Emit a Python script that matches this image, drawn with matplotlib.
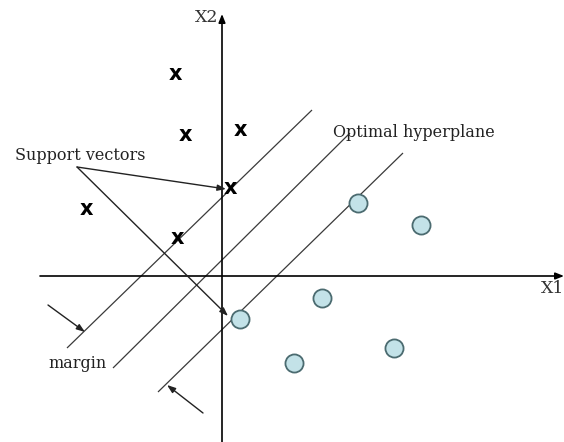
import matplotlib.pyplot as plt
import numpy as np

# data coordinates: origin where the two axes cross
cross_x = [-1.175, -0.925, 0.45, 0.2, -3.4, -1.125]
cross_y = [5.05, 3.525, 3.65, 2.2, 1.675, 0.95]

circle_x = [3.4, 4.975, 2.5, 0.45, 1.8, 4.3]
circle_y = [1.825, 1.275, -0.55, -1.075, -2.175, -1.8]

# parallel lines: lower margin, hyperplane, upper margin (start, end)
line_x = [(-3.875, 2.25), (-2.725, 3.2), (-1.6, 4.525)]
line_y = [(-1.8, 4.15), (-2.3, 3.575), (-2.9, 3.075)]

support_from = (-3.625, 2.725)
support_to = [(0.1, 2.175), (0.15, -1.0)]

margin_arrows = [((-4.35, -0.725), (-3.425, -1.4)), ((-0.475, -3.425), (-1.375, -2.725))]

x_axis_range = (-4.55, 8.55)
y_axis_range = (-4.2, 6.55)

figure = plt.figure(figsize=(5.64, 4.42), dpi=100)
axis = figure.add_axes([0, 0, 1, 1])
axis.set_xlim(-5.55, 8.55)
axis.set_ylim(-4.15, 6.9)
axis.axis("off")

serif = "DejaVu Serif"
ink = "#222222"
head = "-|>,head_length=0.5,head_width=0.18"

# coordinate axes
axis.annotate("", xy=(x_axis_range[1], 0), xytext=(x_axis_range[0], 0),
              arrowprops=dict(arrowstyle="-|>,head_length=0.5,head_width=0.2", color="black", lw=1.2,
                              shrinkA=0, shrinkB=0))
axis.annotate("", xy=(0, y_axis_range[1]), xytext=(0, y_axis_range[0]),
              arrowprops=dict(arrowstyle="-|>,head_length=0.5,head_width=0.2", color="black", lw=1.2,
                              shrinkA=0, shrinkB=0))
axis.text(7.975, -0.425, "X1", family=serif, fontsize=12.5, color="#333333", ha="left", va="baseline")
axis.text(-0.1, 6.35, "X2", family=serif, fontsize=12.5, color="#333333", ha="right", va="baseline")

# margin lines and hyperplane
for xs, ys in zip(line_x, line_y):
    axis.plot(xs, ys, color="#3a3a3a", lw=0.9, solid_capstyle="butt")

# class markers
for x, y in zip(cross_x, cross_y):
    axis.text(x, y, "x", fontsize=15, fontweight="bold", family="DejaVu Sans",
              ha="center", va="center", color="black")
axis.scatter(circle_x, circle_y, s=170, facecolor="#c3e2e8", edgecolor="#4b6b70",
             linewidths=1.3, zorder=3)

# labels and callouts
axis.text(-5.175, 2.9, "Support vectors", family=serif, fontsize=11.5, color=ink, va="baseline")
axis.text(2.775, 3.475, "Optimal hyperplane", family=serif, fontsize=11.5, color=ink, va="baseline")
axis.text(-4.35, -2.3, "margin", family=serif, fontsize=11.5, color=ink, va="baseline")

for target in support_to:
    axis.annotate("", xy=target, xytext=support_from,
                  arrowprops=dict(arrowstyle=head, color=ink, lw=1.0, shrinkA=0, shrinkB=0))
for start, end in margin_arrows:
    axis.annotate("", xy=end, xytext=start,
                  arrowprops=dict(arrowstyle=head, color=ink, lw=1.0, shrinkA=0, shrinkB=0))

figure.savefig("out.png", dpi=100)
plt.close(figure)
